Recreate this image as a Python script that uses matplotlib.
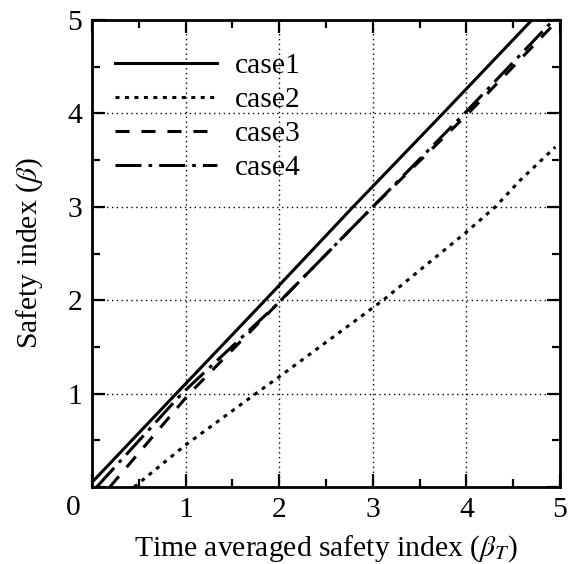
import matplotlib
matplotlib.use("Agg")
import matplotlib.pyplot as plt
from matplotlib.ticker import MultipleLocator

plt.rcParams['font.family'] = ['Liberation Serif', 'DejaVu Serif']
plt.rcParams['mathtext.fontset'] = 'stix'

# data
case1_x = [0.0, 0.90, 1.85, 2.79, 3.75, 4.70]
case1_y = [0.05, 1.0, 2.0, 3.0, 4.0, 5.0]

case2_x = [0.45, 1.0, 1.75, 2.0, 3.11, 4.0, 4.31, 4.57, 4.95]
case2_y = [0.0, 0.45, 1.0, 1.18, 2.0, 2.73, 3.0, 3.28, 3.64]

case3_x = [0.19, 1.04, 2.02, 3.0, 4.02, 4.95]
case3_y = [0.0, 1.0, 2.0, 3.0, 4.0, 4.97]

case4_x = [0.05, 0.96, 1.97, 3.0, 3.98, 4.93]
case4_y = [0.0, 1.0, 1.95, 3.0, 4.0, 5.0]

labels = ['case1', 'case2', 'case3', 'case4']
ticks = [0, 1, 2, 3, 4, 5]
tick_labels = ['', '1', '2', '3', '4', '5']

FS = 21.3

fig = plt.figure(figsize=(5.73, 5.64), dpi=100)
ax = fig.add_axes([92/573, 77/564, 468/573, 467/564])

lw = 2.2
ax.plot(case1_x, case1_y, color='black', lw=lw, linestyle='-', label=labels[0])
ax.plot(case2_x, case2_y, color='black', lw=lw, linestyle=(0, (1.3, 1.8)), label=labels[1])
ax.plot(case3_x, case3_y, color='black', lw=lw, linestyle=(0, (4.6, 3.9)), label=labels[2])
ax.plot(case4_x, case4_y, color='black', lw=lw, linestyle=(0, (8.5, 2.3, 1.2, 2.3)), label=labels[3])

ax.set_xlim(0, 5)
ax.set_ylim(0, 5)
ax.set_xticks(ticks)
ax.set_yticks(ticks)
ax.set_xticklabels(tick_labels)
ax.set_yticklabels(tick_labels)
ax.xaxis.set_minor_locator(MultipleLocator(0.5))
ax.yaxis.set_minor_locator(MultipleLocator(0.5))
ax.tick_params(which='major', direction='in', length=9.5, width=1.6,
               top=True, right=True, labelsize=FS, pad=7)
ax.tick_params(which='minor', direction='in', length=6, width=1.6,
               top=True, right=True)
for s in ax.spines.values():
    s.set_linewidth(2.0)

ax.grid(True, which='major', color='black', linestyle=(0, (1, 2.5)), linewidth=1.0)

ax.text(-0.04, -0.045, '0', transform=ax.transAxes, fontsize=FS,
        ha='center', va='center')

ax.set_xlabel(r'Time averaged safety index ($\beta_T$)', fontsize=FS, labelpad=8)
ax.set_ylabel(r'Safety index ($\beta$)', fontsize=FS, labelpad=16)

leg = ax.legend(loc='upper left', bbox_to_anchor=(0.024, 0.956), frameon=False,
                fontsize=FS, handlelength=3.45, handletextpad=0.6,
                labelspacing=0.25, borderaxespad=0.0)

fig.savefig('out.png', dpi=100)
